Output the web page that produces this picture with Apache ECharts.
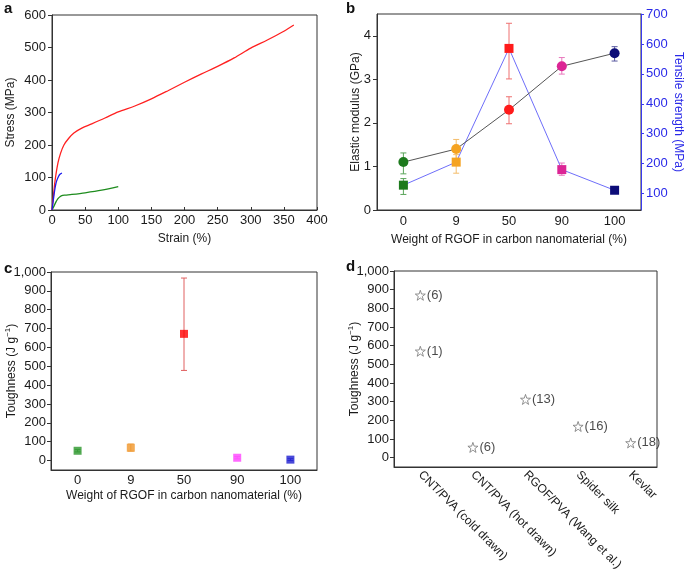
<!DOCTYPE html>
<html><head><meta charset="utf-8">
<script src="https://cdn.jsdelivr.net/npm/echarts@6/dist/echarts.min.js"></script>
<style>html,body{margin:0;padding:0;background:#fff}#c{width:685px;height:574px}</style>
</head><body><div id="c"></div>
<script>
// ---------- Panel a: stress-strain curves ----------
const redCurve = [[0,0],[2,40],[4,80],[6,110],[9,145],[13,175],[18,200],[25,220],[33,237],[45,252],[60,265],[80,283],[100,302],[125,320],[150,342],[175,367],[200,393],[225,418],[250,442],[275,468],[300,498],[325,523],[350,550],[365,569]];
const blueCurve = [[0,0],[2,30],[4,60],[6,82],[8,95],[10,104],[12,110],[15,114]];
const greenCurve = [[0,0],[3,12],[6,25],[9,35],[12,41],[16,45],[20,46],[30,48],[50,53],[75,61],[100,72]];
const aXTicks = [0,50,100,150,200,250,300,350,400];
const aYTicks = [0,100,200,300,400,500,600];

// ---------- Panel b ----------
const rgofCats = ['0','9','50','90','100'];
const modulus = [1.1, 1.4, 2.3, 3.3, 3.6];
const modulusLo = [0.83, 1.18, 1.98, 3.12, 3.42];
const modulusHi = [1.31, 1.62, 2.6, 3.5, 3.75];
const strength = [128, 205, 585, 180, 111];
const strengthLo = [97, 168, 483, 161, 104];
const strengthHi = [150, 230, 669, 202, 118];
const bLeftTicks = [0,1,2,3,4];
const bRightTicks = [100,200,300,400,500,600,700];

// ---------- Panel c ----------
const toughness = [52, 68, 672, 15, 5];
const toughnessLo = [46, 50, 478, 9, 0];
const toughnessHi = [58, 88, 968, 21, 10];
const toughTicks = [0,100,200,300,400,500,600,700,800,900,1000];

// ---------- Panel d ----------
const matCats = ['CNT/PVA (cold drawn)','CNT/PVA (hot drawn)','RGOF/PVA (Wang et al.)','Spider silk','Kevlar'];
const litCat = [0, 0, 1, 2, 3, 4];
const litTough = [870, 570, 55, 312, 167, 79];
const litRef = ['(6)','(1)','(6)','(13)','(16)','(18)'];

// ---------- styling ----------
const FONT = 'Liberation Sans, Arial, Helvetica, sans-serif';
const TXT = '#1a1a1a';
const AX = '#333';
const bColors = ['#1d7a1d','#f5a321','#ff1a1a','#dc2595','#0c0c78'];
const bErrColors = ['#5aa55a','#f4bd6a','#ee7070','#e878bd','#5a5aa0'];
const cColors = ['#2a962a','#f0962a','#ff0000','#ff44ff','#1c1cd0'];
const cErrColors = ['#63b063','#f2b060','#e06060','#ff88ff','#6060e0'];
const STAR = 'path://M10 0 L12.35 6.76 L19.51 6.91 L13.8 11.24 L15.88 18.09 L10 14 L4.12 18.09 L6.2 11.24 L0.49 6.91 L7.65 6.76 Z';

function fmtThousands(v){ return v >= 1000 ? (Math.floor(v/1000) + ',' + String(v%1000).padStart(3,'0')) : String(v); }

function errSeries(xi, yi, cats, lo, hi, colors, cap, z){
  return {
    type: 'custom', xAxisIndex: xi, yAxisIndex: yi, z: z, silent: true,
    encode: {x: 0, y: [1,2]},
    data: cats.map((c,i)=>[i, lo[i], hi[i]]),
    renderItem: function(params, api){
      const x = api.value(0);
      const p1 = api.coord([x, api.value(1)]);
      const p2 = api.coord([x, api.value(2)]);
      const st = {stroke: colors[params.dataIndex], lineWidth: 1};
      return {type:'group', children:[
        {type:'line', shape:{x1:p1[0], y1:p1[1], x2:p2[0], y2:p2[1]}, style: st},
        {type:'line', shape:{x1:p1[0]-cap, y1:p1[1], x2:p1[0]+cap, y2:p1[1]}, style: st},
        {type:'line', shape:{x1:p2[0]-cap, y1:p2[1], x2:p2[0]+cap, y2:p2[1]}, style: st}
      ]};
    }
  };
}

const labelStyle = {color: TXT, fontFamily: FONT, fontSize: 13};
const nameStyle = {color: TXT, fontFamily: FONT, fontSize: 12,
  rich: {sup: {fontSize: 8, fontFamily: FONT, color: TXT, verticalAlign: 'top', padding:[0,0,7,0]}}};

const grids = [
  {left: 52, top: 15, width: 265, height: 195},
  {left: 377, top: 14, width: 264, height: 196},
  {left: 51, top: 272, width: 266, height: 198},
  {left: 394, top: 271, width: 263, height: 196}
].map(g => Object.assign({show: true, borderColor: AX, borderWidth: 1, backgroundColor: 'transparent', containLabel: false, outerBoundsMode: 'none'}, g));

const xLine = {onZero: false, lineStyle: {color: AX}};

const option = {
  animation: false,
  backgroundColor: '#fff',
  textStyle: {fontFamily: FONT},
  title: [
    {text: 'a', left: -1, top: -4},
    {text: 'b', left: 341, top: -4},
    {text: 'c', left: -1, top: 256},
    {text: 'd', left: 341, top: 254}
  ].map(t => Object.assign({textStyle: {fontFamily: FONT, fontSize: 15, fontWeight: 'bold', color: '#111'}}, t)),
  grid: grids,
  xAxis: [
    {gridIndex: 0, type: 'value', min: 0, max: 400, interval: 50,
     name: 'Strain (%)', nameLocation: 'middle', nameGap: 23, nameMoveOverlap: false, nameTextStyle: nameStyle,
     axisLine: xLine, axisTick: {inside: true, length: 3, lineStyle: {color: AX}},
     axisLabel: Object.assign({margin: 4, customValues: aXTicks}, labelStyle), splitLine: {show: false}},
    {gridIndex: 1, type: 'category', data: rgofCats, boundaryGap: true,
     name: 'Weight of RGOF in carbon nanomaterial (%)', nameLocation: 'middle', nameGap: 24, nameMoveOverlap: false, nameTextStyle: nameStyle,
     axisLine: xLine, axisTick: {inside: true, length: 3, alignWithLabel: true, lineStyle: {color: AX}},
     axisLabel: Object.assign({margin: 5, interval: 0}, labelStyle)},
    {gridIndex: 2, type: 'category', data: rgofCats, boundaryGap: true,
     name: 'Weight of RGOF in carbon nanomaterial (%)', nameLocation: 'middle', nameGap: 20, nameMoveOverlap: false, nameTextStyle: nameStyle,
     axisLine: xLine, axisTick: {inside: true, length: 3, alignWithLabel: true, lineStyle: {color: AX}},
     axisLabel: Object.assign({margin: 4, interval: 0}, labelStyle)},
    {gridIndex: 3, type: 'category', data: matCats, boundaryGap: true,
     axisLine: xLine, axisTick: {inside: true, length: 3, alignWithLabel: true, lineStyle: {color: AX}},
     axisLabel: Object.assign({}, labelStyle, {margin: 6, interval: 0, rotate: -45, fontSize: 12})}
  ],
  yAxis: [
    {gridIndex: 0, type: 'value', min: 0, max: 600, interval: 100,
     name: 'Stress (MPa)', nameLocation: 'middle', nameGap: 35, nameMoveOverlap: false, nameTextStyle: nameStyle,
     axisLine: {show: true, lineStyle: {color: AX}}, axisTick: {show: true, length: 4, lineStyle: {color: AX}},
     axisLabel: Object.assign({margin: 6, customValues: aYTicks}, labelStyle), splitLine: {show: false}},
    {gridIndex: 1, type: 'value', min: 0, max: 4.5, position: 'left',
     name: 'Elastic modulus (GPa)', nameLocation: 'middle', nameGap: 15, nameMoveOverlap: false, nameTextStyle: nameStyle,
     axisLine: {show: true, lineStyle: {color: AX}}, axisTick: {show: true, length: 4, customValues: bLeftTicks, lineStyle: {color: AX}},
     axisLabel: Object.assign({margin: 6, customValues: bLeftTicks}, labelStyle), splitLine: {show: false}},
    {gridIndex: 1, type: 'value', min: 45, max: 700, position: 'right',
     name: 'Tensile strength (MPa)', nameLocation: 'middle', nameGap: 31, nameRotate: -90, nameMoveOverlap: false,
     nameTextStyle: Object.assign({}, nameStyle, {color: '#2a2ae8'}),
     axisLine: {show: true, lineStyle: {color: '#3a3af0'}}, axisTick: {show: true, length: 3, customValues: bRightTicks, lineStyle: {color: '#3a3af0'}},
     axisLabel: Object.assign({}, labelStyle, {margin: 5, color: '#2a2ae8', customValues: bRightTicks}), splitLine: {show: false}},
    {gridIndex: 2, type: 'value', min: -50, max: 1000,
     name: 'Toughness (J g{sup|−1})', nameLocation: 'middle', nameGap: 32, nameMoveOverlap: false, nameTextStyle: nameStyle,
     axisLine: {show: true, lineStyle: {color: AX}}, axisTick: {show: true, length: 4, customValues: toughTicks, lineStyle: {color: AX}},
     axisLabel: Object.assign({margin: 5, customValues: toughTicks, formatter: fmtThousands}, labelStyle), splitLine: {show: false}},
    {gridIndex: 3, type: 'value', min: -50, max: 1000,
     name: 'Toughness (J g{sup|−1})', nameLocation: 'middle', nameGap: 32, nameMoveOverlap: false, nameTextStyle: nameStyle,
     axisLine: {show: true, lineStyle: {color: AX}}, axisTick: {show: true, length: 4, customValues: toughTicks, lineStyle: {color: AX}},
     axisLabel: Object.assign({margin: 5, customValues: toughTicks, formatter: fmtThousands}, labelStyle), splitLine: {show: false}}
  ],
  series: [
    // a
    {type: 'line', xAxisIndex: 0, yAxisIndex: 0, data: greenCurve, smooth: 0.3, showSymbol: false, lineStyle: {color: '#1e8c1e', width: 1.3}},
    {type: 'line', xAxisIndex: 0, yAxisIndex: 0, data: redCurve, smooth: 0.3, showSymbol: false, lineStyle: {color: '#ff2020', width: 1.3}},
    {type: 'line', xAxisIndex: 0, yAxisIndex: 0, data: blueCurve, smooth: 0.3, showSymbol: false, lineStyle: {color: '#1a1aee', width: 1.3}},
    // b error bars
    errSeries(1, 1, rgofCats, modulusLo, modulusHi, bErrColors, 3, 1),
    errSeries(1, 2, rgofCats, strengthLo, strengthHi, bErrColors, 3, 1),
    // b lines + markers
    {type: 'line', xAxisIndex: 1, yAxisIndex: 2, z: 3, symbol: 'rect', symbolSize: 9,
     lineStyle: {color: '#6e6efa', width: 1},
     data: strength.map((v,i)=>({value: v, itemStyle: {color: bColors[i]}}))},
    {type: 'line', xAxisIndex: 1, yAxisIndex: 1, z: 3, symbol: 'circle', symbolSize: 10,
     lineStyle: {color: '#555', width: 1},
     data: modulus.map((v,i)=>({value: v, itemStyle: {color: bColors[i]}}))},
    // c
    errSeries(2, 3, rgofCats, toughnessLo, toughnessHi, cErrColors, 3, 1),
    {type: 'scatter', xAxisIndex: 2, yAxisIndex: 3, z: 3, symbol: 'rect', symbolSize: 8,
     data: toughness.map((v,i)=>({value: v, itemStyle: {color: cColors[i]}}))},
    // d
    {type: 'scatter', xAxisIndex: 3, yAxisIndex: 4, z: 3, symbol: STAR, symbolSize: 10,
     itemStyle: {color: '#fff', borderColor: '#777', borderWidth: 1},
     label: {show: true, position: 'right', distance: 1, color: TXT, fontFamily: FONT, fontSize: 13,
             formatter: p => litRef[p.dataIndex]},
     data: litCat.map((c,i)=>[c, litTough[i]])}
  ]
};

const chart = echarts.init(document.getElementById('c'), null, {renderer: 'canvas'});
chart.setOption(option);
</script>
</body></html>
